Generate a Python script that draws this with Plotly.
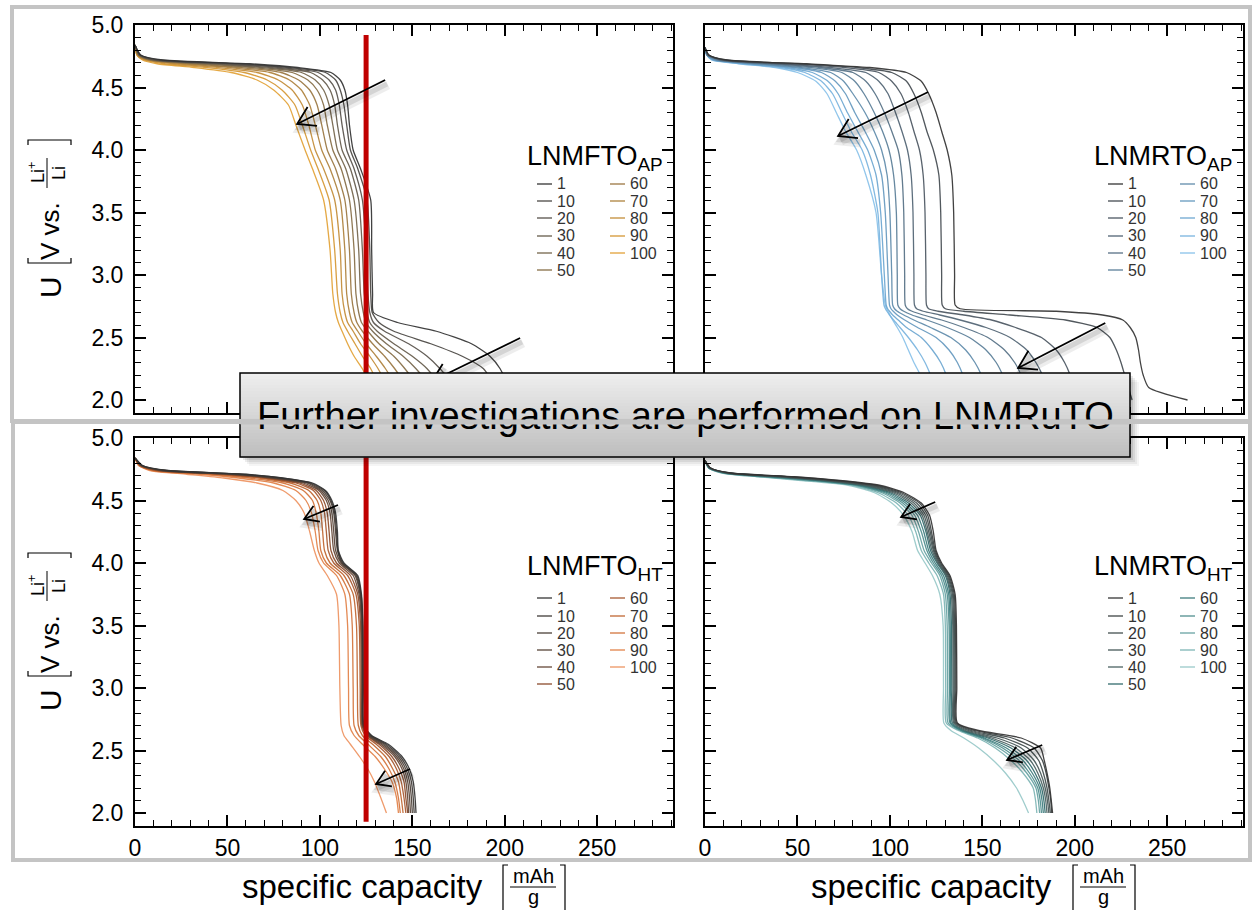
import math
import plotly.graph_objects as go

W, H = 1256, 910
FONT = "Liberation Sans, Arial, Helvetica, sans-serif"

CYCLES = [1, 10, 20, 30, 40, 50, 60, 70, 80, 90, 100]
X_RANGE = [0, 291]
Y_RANGE = [1.896, 5.0]
X_TICKS = [0, 50, 100, 150, 200, 250]
RED_LINE_CAPACITY = 125

# ---- LNMFTO_AP: voltage nodes and capacity of each cycle at those nodes ----
TL_VOLT = [4.84, 4.76, 4.72, 4.69, 4.66, 4.62, 4.56, 4.48, 4.36, 4.20, 4.00, 3.85,
           3.60, 3.20, 2.85, 2.70, 2.62, 2.55, 2.45, 2.35, 2.25, 2.12, 2.00]
TL_CAP = [
    [0, 3, 15, 62, 88, 106, 111, 113.5, 115, 116, 118, 122, 127.5, 128, 128.5, 129, 142, 163, 182, 192, 197.5, 201.5, 203],
    [0, 3, 13, 56, 83, 103, 108.5, 111, 113, 114.5, 116.5, 120.5, 125.5, 127, 127.5, 128.3, 132, 140, 160, 177, 188.5, 194, 196],
    [0, 2.5, 12, 51, 78, 99, 105, 108.5, 110.5, 112, 114.5, 118.5, 123, 125, 126, 127, 129, 135, 148, 158, 165, 172, 176],
    [0, 2.5, 11, 46, 73, 95, 101.5, 105.5, 108, 109.5, 112, 116.5, 121, 123, 124, 125.5, 127, 131, 140, 150, 158, 165, 169],
    [0, 2, 10, 41, 68, 90, 97.5, 102, 105, 107, 109.5, 114, 118.5, 121, 122, 123.5, 125, 128.5, 136, 145, 152, 159, 163],
    [0, 2, 9, 36, 63, 85, 93.5, 98.5, 102, 104, 107, 111.5, 116, 118.5, 119.5, 121, 122.5, 126, 132, 140, 146, 152.5, 157],
    [0, 2, 8, 31, 57, 79, 88.5, 94.5, 98.5, 101, 104, 108.5, 113.5, 116, 117, 118.5, 120, 123, 128.5, 135, 140.5, 146.5, 151],
    [0, 1.5, 7, 26, 51, 73, 83.5, 90, 94.5, 97.5, 101, 105.5, 111, 113.5, 114.5, 116, 117.5, 120.5, 125, 130.5, 135.5, 141, 145],
    [0, 1.5, 6, 21, 45, 66, 77.5, 85, 90.5, 94, 97.5, 102, 108, 111, 112, 113.5, 115, 118, 122, 127, 131.5, 136, 139.5],
    [0, 1, 5, 16, 38, 59, 71.5, 79.5, 86.5, 90.5, 95, 99, 105, 108, 109.5, 111, 112.5, 115, 119, 123, 127.5, 131.5, 134.5],
    [0, 1, 4, 12, 32, 52, 66, 75, 83, 87, 92, 96, 102, 105.5, 107, 108.5, 110, 112, 115, 118.5, 123, 127, 130],
]

# ---- LNMRTO_AP ----
TR_VOLT = [4.82, 4.76, 4.72, 4.69, 4.66, 4.62, 4.55, 4.45, 4.30, 4.15, 4.00, 3.80, 3.50,
           3.00, 2.76, 2.73, 2.71, 2.68, 2.64, 2.58, 2.50, 2.40, 2.30, 2.20, 2.10, 2.00]
TR_CAP = [
    [0, 2, 12, 55, 89, 109, 117, 121, 125, 128, 131, 133.5, 134.5, 135, 135.3, 138, 190, 215, 226, 230, 233, 234.5, 235.5, 237, 240, 261],
    [0, 2, 11, 50, 82, 101, 109, 113, 117, 120, 123.5, 126.5, 127.5, 128, 128.3, 130, 140, 165, 195, 212, 219, 222.5, 225, 227, 229, 231],
    [0, 2, 10, 45, 75, 94, 101, 106, 110, 113, 116, 118, 119, 119.5, 119.8, 121, 126, 140, 155, 168, 182, 190, 194.5, 197.5, 199.5, 201],
    [0, 1.5, 9, 40, 68, 87, 94, 99, 103, 106.5, 109.5, 111.5, 112.5, 113, 113.3, 114.5, 118, 127, 138, 152, 165, 174, 179, 182.5, 185, 186.5],
    [0, 1.5, 8, 36, 62, 80, 87, 92, 97, 101, 104.5, 106.5, 107.5, 108, 108.3, 109.5, 112, 118, 128, 140, 153, 162, 167.5, 171, 173.5, 175],
    [0, 1.5, 7, 32, 57, 74, 81, 86, 91.5, 96, 99.5, 102, 103.5, 104, 104.3, 105.5, 107.5, 112, 120, 131, 143, 152, 157.5, 161, 163.5, 165],
    [0, 1, 6, 28, 52, 68, 75, 80, 86.5, 91.5, 95.5, 98.5, 100, 101, 101.5, 102.5, 104, 107.5, 113, 122, 133, 141, 146, 149.5, 152, 153.5],
    [0, 1, 5, 25, 48, 63, 70.5, 76, 81, 86.5, 91.5, 95.5, 97.5, 99, 99.8, 100.6, 101.8, 104, 108, 115, 125, 132, 136.5, 139.5, 141.5, 143],
    [0, 1, 4.5, 22, 44, 58, 66.5, 72, 77, 82.5, 88, 92.5, 95, 97, 98, 98.8, 99.8, 101.5, 104.5, 109, 117, 123, 127.5, 130.5, 132.5, 134],
    [0, 1, 4, 20, 41, 54, 63, 69, 74, 79, 85, 89.5, 93.5, 95.5, 96.8, 97.6, 98.4, 99.8, 102, 105.5, 110, 115, 119, 122, 124.5, 126],
    [0, 1, 3.5, 18, 38, 50, 60, 66, 71, 76, 82, 87, 92.5, 95.5, 97.5, 98.3, 99, 100, 101.5, 104, 107, 110, 113, 116.5, 119, 121],
]

# ---- LNMFTO_HT ----
BL_VOLT = [4.84, 4.78, 4.74, 4.71, 4.68, 4.64, 4.58, 4.50, 4.40, 4.25, 4.10, 4.00,
           3.90, 3.75, 3.50, 3.00, 2.70, 2.62, 2.55, 2.45, 2.35, 2.25, 2.12, 2.00]
BL_CAP = [
    [0, 4, 18, 60, 80, 96, 103, 106.5, 108.5, 109.5, 110, 113, 120.5, 122.5, 123.3, 123.5, 123.8, 128, 137, 144.5, 148.5, 150.5, 151.5, 152],
    [0, 4, 17, 58, 79, 95, 102.5, 106, 108, 109, 109.8, 112.5, 120, 122.3, 123.2, 123.4, 123.7, 127.5, 136, 143.5, 147.5, 149.5, 150.5, 151],
    [0, 3.5, 16, 56, 77, 94, 101.5, 105.5, 107.5, 108.5, 109.5, 112, 119.5, 122, 123, 123.2, 123.5, 127, 135, 142.5, 146.5, 148.5, 149.5, 150],
    [0, 3.5, 15, 54, 76, 93, 100.5, 104.5, 106.5, 107.5, 108.5, 111.5, 119, 121.7, 122.8, 123, 123.3, 126.5, 134, 141.5, 145.5, 147.5, 148.5, 149],
    [0, 3, 14, 52, 74, 91, 99.5, 103.5, 105.5, 106.5, 107.5, 110.5, 118, 121.2, 122.5, 122.8, 123, 126, 133, 140.5, 144.5, 146.5, 147.5, 148],
    [0, 3, 13, 50, 72, 89, 98, 102, 104, 105, 106, 109, 116.5, 120.5, 122, 122.4, 122.7, 125.5, 132, 139, 143, 145.5, 146.5, 147.5],
    [0, 3, 12, 48, 70, 87, 96.5, 100.5, 102.5, 103.5, 104.5, 107.5, 115, 119.5, 121.3, 121.8, 122.2, 124.5, 130.5, 137.5, 141.5, 144, 145.5, 146.5],
    [0, 2.5, 11, 45, 67, 84, 94, 98.5, 100.5, 101.5, 102.5, 105.5, 113, 118, 119.8, 120.3, 120.8, 123, 128.5, 135.5, 139.5, 142.5, 144, 145],
    [0, 2.5, 10, 40, 62, 80, 91, 96, 98, 99.5, 100.5, 103.5, 111, 116, 117.5, 118, 118.5, 121, 126, 133, 137.5, 140.5, 142.5, 143.5],
    [0, 2, 9, 35, 56, 75, 87, 92.5, 95.5, 97.5, 99, 102, 109, 113.5, 115, 115.5, 116, 118.5, 123, 130, 135, 139, 141.5, 142.5],
    [0, 2, 8, 28, 48, 66, 80, 87, 91.5, 94.5, 97, 99.5, 104, 109, 110.3, 110.8, 111.5, 113, 116.5, 121.5, 126, 129.5, 133, 136],
]

# ---- LNMRTO_HT ----
BR_VOLT = [4.82, 4.76, 4.72, 4.69, 4.66, 4.62, 4.56, 4.48, 4.38, 4.25, 4.10, 4.00, 3.90,
           3.75, 3.50, 3.00, 2.72, 2.66, 2.60, 2.52, 2.42, 2.32, 2.20, 2.10, 2.00]
BR_CAP = [
    [0, 3, 14, 48, 73, 95, 108, 117, 121.5, 123.5, 125, 128, 132.5, 135.3, 136, 136.2, 136.5, 148, 171, 181.5, 183.5, 185, 186.5, 187.3, 188],
    [0, 3, 13.5, 46, 71, 93, 106.5, 116, 120.5, 122.5, 124.5, 127.5, 132, 134.8, 135.5, 135.7, 136, 146, 166, 178, 182.5, 184.5, 186, 187, 187.5],
    [0, 3, 13, 44, 69, 91, 105, 114.5, 119.5, 121.8, 124, 127, 131.5, 134.3, 135, 135.2, 135.5, 144, 162, 174.5, 180.5, 183, 185, 186, 186.8],
    [0, 2.5, 12.5, 42, 67, 89, 103.5, 113, 118.5, 121, 123.5, 126.5, 131, 133.8, 134.5, 134.7, 135, 142.5, 158, 171, 178, 181.5, 184, 185.2, 186],
    [0, 2.5, 12, 40, 65, 87, 102, 111.5, 117.5, 120.2, 122.8, 126, 130.5, 133.2, 134, 134.2, 134.5, 141, 155, 168, 176, 180, 183, 184.3, 185],
    [0, 2.5, 11.5, 38, 63, 86, 100.5, 110, 116.5, 119.5, 122, 125.5, 130, 132.5, 133.3, 133.5, 133.8, 140, 153, 165.5, 174, 178.5, 182, 183.3, 184],
    [0, 2.5, 11, 36, 61, 84, 99, 108.5, 115, 118.3, 121, 124.5, 129, 131.8, 132.6, 132.8, 133, 139, 151, 163, 172, 177, 181, 182.3, 183],
    [0, 2, 10.5, 34, 59, 83, 97.5, 107, 113.5, 117, 120, 123.5, 128, 131, 132, 132.2, 132.5, 138.5, 150, 161, 170, 175.5, 180, 181.3, 182],
    [0, 2, 10, 32, 57, 82, 96, 105.5, 112, 115.5, 118.5, 122.5, 127, 130, 131, 131.2, 131.5, 138, 149, 159, 168, 174, 179, 180.3, 181],
    [0, 2, 9.5, 30, 55, 80, 94, 103.5, 110, 114, 117, 121, 125.5, 129, 130, 130.2, 130.5, 137, 147.5, 157, 165.5, 172, 177.5, 178.8, 179.5],
    [0, 2, 9, 28, 52, 78, 92, 101, 107.5, 112, 115, 119, 123, 127, 128.8, 129, 129.2, 133, 140, 148, 156, 162.5, 168.5, 172, 175],
]

TL_COLORS = ["#333333", "#4a4743", "#57514a", "#645a4a", "#74644a", "#866d45",
             "#9a7640", "#ae813b", "#c38c37", "#d59733", "#e3a236"]
TR_COLORS = ["#333333", "#434a50", "#4b5661", "#506373", "#557085", "#5a7e98",
             "#5f8bab", "#6599bf", "#6da7d1", "#79b4df", "#89c2ea"]
BL_COLORS = ["#333333", "#3e3935", "#4a3e36", "#564236", "#644636", "#8b4a2a",
             "#a7582f", "#c0652f", "#d3733a", "#e28147", "#ee9360"]
BR_COLORS = ["#333333", "#3c4343", "#414d4d", "#455757", "#486060", "#2f6a6b",
             "#3d7c7d", "#4f8e8e", "#66a2a2", "#7db5b5", "#98c9c9"]

# arrows (tail, tip) in data units
TL_ARROWS = [((135.3, 4.56), (87.7, 4.208)), ((208.3, 2.496), (160.7, 2.152))]
TR_ARROWS = [((120.7, 4.464), (72.0, 4.112)), ((216.5, 2.616), (169.4, 2.256))]
BL_ARROWS = [((109.8, 4.464), (91.5, 4.352)), ((148.8, 2.352), (130.4, 2.232))]
BR_ARROWS = [((124.5, 4.488), (106.1, 4.368)), ((182.4, 2.544), (163.4, 2.424))]

# ---------------------------------------------------------------------------
def fx(px):
    return px / W


def fy(py):
    return 1 - py / H


PANELS = [
    dict(name="LNMFTO", sub="AP", volt=TL_VOLT, cap=TL_CAP, colors=TL_COLORS, arrows=TL_ARROWS,
         box=(135, 25, 673, 413), ax="", leg=(525, 158, 537, 610, [184, 201, 218, 236, 253, 270]),
         xlabels=False, ylabels=True, red=True),
    dict(name="LNMRTO", sub="AP", volt=TR_VOLT, cap=TR_CAP, colors=TR_COLORS, arrows=TR_ARROWS,
         box=(705, 25, 1243, 413), ax="2", leg=(1092, 158, 1108, 1180, [184, 201, 218, 236, 253, 270]),
         xlabels=False, ylabels=False, red=False),
    dict(name="LNMFTO", sub="HT", volt=BL_VOLT, cap=BL_CAP, colors=BL_COLORS, arrows=BL_ARROWS,
         box=(135, 438, 673, 826), ax="3", leg=(525, 568, 537, 610, [598, 616, 633, 650, 667, 684]),
         xlabels=True, ylabels=True, red=True),
    dict(name="LNMRTO", sub="HT", volt=BR_VOLT, cap=BR_CAP, colors=BR_COLORS, arrows=BR_ARROWS,
         box=(705, 438, 1243, 826), ax="4", leg=(1092, 568, 1108, 1180, [598, 616, 633, 650, 667, 684]),
         xlabels=True, ylabels=False, red=False),
]


def to_px(box, x, y):
    x0, y0, x1, y1 = box
    px = x0 + (x - X_RANGE[0]) / (X_RANGE[1] - X_RANGE[0]) * (x1 - x0)
    py = y1 - (y - Y_RANGE[0]) / (Y_RANGE[1] - Y_RANGE[0]) * (y1 - y0)
    return px, py


def to_data(box, px, py):
    x0, y0, x1, y1 = box
    x = X_RANGE[0] + (px - x0) / (x1 - x0) * (X_RANGE[1] - X_RANGE[0])
    y = Y_RANGE[0] + (y1 - py) / (y1 - y0) * (Y_RANGE[1] - Y_RANGE[0])
    return x, y


def label(px, py, text, size, angle=0, color="black", anchor="center", pad=1):
    return dict(x=fx(px), y=fy(py), xref="paper", yref="paper", text=text, showarrow=False,
                textangle=angle, xanchor=anchor, yanchor="middle", borderpad=pad,
                font=dict(size=size, color=color, family=FONT))


fig = go.Figure()
shapes = []
annotations = []

for p in PANELS:
    xa, ya = "x" + p["ax"], "y" + p["ax"]
    # discharge curves, last cycle first so the early cycles sit on top
    for i in reversed(range(len(CYCLES))):
        fig.add_trace(go.Scatter(
            x=p["cap"][i], y=p["volt"], xaxis=xa, yaxis=ya, mode="lines",
            line=dict(color=p["colors"][i], width=1.3, shape="spline", smoothing=0.6),
            opacity=0.92, showlegend=False, hoverinfo="skip"))
    # capacity marker line
    if p["red"]:
        fig.add_trace(go.Scatter(
            x=[RED_LINE_CAPACITY, RED_LINE_CAPACITY], y=[4.92 if p["ax"] == "" else 5.0, 1.93],
            xaxis=xa, yaxis=ya, mode="lines", line=dict(color="#c00000", width=5),
            showlegend=False, hoverinfo="skip"))
    # trend arrows with a soft drop shadow
    box = p["box"]
    for (tail, tip) in p["arrows"]:
        tpx, tpy = to_px(box, *tail)
        hpx, hpy = to_px(box, *tip)
        ang = math.atan2(tpy - hpy, tpx - hpx)
        length = math.hypot(tpx - hpx, tpy - hpy)
        head = 20 if length > 60 else 16
        wings = []
        for s in (-1, 1):
            a = ang + s * math.radians(32)
            wings.append((hpx + head * math.cos(a), hpy + head * math.sin(a)))
        path_px = [(tpx, tpy), (hpx, hpy), None, wings[0], (hpx, hpy), wings[1]]
        for dx, dy, col, wdt in ((3, 5, "rgba(0,0,0,0.07)", 9), (2, 4, "rgba(0,0,0,0.10)", 5), (0, 0, "black", 1.8)):
            xs, ys = [], []
            for pt in path_px:
                if pt is None:
                    xs.append(None); ys.append(None)
                else:
                    dxv, dyv = to_data(box, pt[0] + dx, pt[1] + dy)
                    xs.append(dxv); ys.append(dyv)
            fig.add_trace(go.Scatter(x=xs, y=ys, xaxis=xa, yaxis=ya, mode="lines",
                                     line=dict(color=col, width=wdt), showlegend=False,
                                     hoverinfo="skip"))

    # axes
    x0, y0, x1, y1 = box
    common = dict(showline=True, linecolor="black", linewidth=2, mirror="allticks",
                  ticks="inside", ticklen=11, tickwidth=2, tickcolor="black",
                  showgrid=False, zeroline=False, automargin=False,
                  tickfont=dict(size=23, color="black", family=FONT))
    fig.layout["xaxis" + p["ax"]] = dict(
        common, domain=[fx(x0), fx(x1)], range=X_RANGE, anchor=ya, tickvals=X_TICKS,
        showticklabels=p["xlabels"], ticklabelstandoff=0,
        minor=dict(ticks="inside", ticklen=6, tickwidth=1.2, tickcolor="black", dtick=10, tick0=0))
    fig.layout["yaxis" + p["ax"]] = dict(
        common, domain=[fy(y1), fy(y0)], range=Y_RANGE, anchor=xa, tick0=0, dtick=0.5,
        tickformat=".1f", showticklabels=p["ylabels"], ticklabelstandoff=5,
        minor=dict(ticks="inside", ticklen=6, tickwidth=1.2, tickcolor="black", dtick=0.1, tick0=0))

    # legend block
    tx, ty, c1x, c2x, rows = p["leg"]
    annotations.append(label(tx, ty, p["name"] + "<sub>" + p["sub"] + "</sub>", 27, anchor="left"))
    for i, c in enumerate(CYCLES):
        cx = c1x if i < 6 else c2x
        ry = rows[i if i < 6 else i - 6]
        shapes.append(dict(type="line", xref="paper", yref="paper", x0=fx(cx), x1=fx(cx + 15),
                           y0=fy(ry), y1=fy(ry), line=dict(color=p["colors"][i], width=1.6),
                           opacity=0.8, layer="above"))
        annotations.append(label(cx + 18, ry, str(c), 16, color="#333333", anchor="left"))

# y axis titles:  U [V vs. Li+/Li]
for top in (25, 438):
    annotations.append(label(50, top + 262, "U", 30, angle=-90))
    annotations.append(label(50, top + 206, "V vs.", 26, angle=-90))
    annotations.append(label(36, top + 148, "Li<sup>+</sup>", 18, angle=-90))
    annotations.append(label(59, top + 148, "Li", 18, angle=-90))
    shapes.append(dict(type="line", xref="paper", yref="paper", x0=fx(47), x1=fx(47),
                       y0=fy(top + 133), y1=fy(top + 163), line=dict(color="black", width=1)))
    b1 = top + 238
    b2 = top + 115
    shapes.append(dict(type="path", xref="paper", yref="paper",
                       path=f"M {fx(28)},{fy(b1 - 5)} L {fx(28)},{fy(b1)} L {fx(71)},{fy(b1)} L {fx(71)},{fy(b1 - 5)}",
                       line=dict(color="black", width=1.2)))
    shapes.append(dict(type="path", xref="paper", yref="paper",
                       path=f"M {fx(28)},{fy(b2 + 5)} L {fx(28)},{fy(b2)} L {fx(71)},{fy(b2)} L {fx(71)},{fy(b2 + 5)}",
                       line=dict(color="black", width=1.2)))

# x axis titles:  specific capacity [mAh/g]
for dx in (0, 570):
    annotations.append(label(362 + dx, 886, "specific capacity", 33))
    annotations.append(label(533 + dx, 876, "mAh", 20, pad=0))
    annotations.append(label(533 + dx, 897, "g", 20, pad=0))
    shapes.append(dict(type="line", xref="paper", yref="paper", x0=fx(510 + dx), x1=fx(556 + dx),
                       y0=fy(887), y1=fy(887), line=dict(color="black", width=1)))
    shapes.append(dict(type="path", xref="paper", yref="paper",
                       path=f"M {fx(508 + dx)},{fy(865)} L {fx(503 + dx)},{fy(865)} L {fx(503 + dx)},{fy(912)}",
                       line=dict(color="black", width=1.2)))
    shapes.append(dict(type="path", xref="paper", yref="paper",
                       path=f"M {fx(560 + dx)},{fy(865)} L {fx(565 + dx)},{fy(865)} L {fx(565 + dx)},{fy(912)}",
                       line=dict(color="black", width=1.2)))

# call-out box across the middle: shadow, vertical grey gradient, border
BX0, BY0, BX1, BY1 = 240, 373, 1130, 457
for k, a in ((9, 0.04), (7, 0.05), (5, 0.07), (3, 0.09)):
    shapes.append(dict(type="rect", xref="paper", yref="paper", x0=fx(BX0 + k), x1=fx(BX1 + k),
                       y0=fy(BY0 + k), y1=fy(BY1 + k), line=dict(width=0),
                       fillcolor=f"rgba(0,0,0,{a})", layer="above"))
NB = 28
for b in range(NB):
    t = b / (NB - 1)
    g = int(round(238 - t * (238 - 190)))
    ya0 = BY0 + (BY1 - BY0) * b / NB
    ya1 = BY0 + (BY1 - BY0) * (b + 1) / NB + 0.6
    shapes.append(dict(type="rect", xref="paper", yref="paper", x0=fx(BX0), x1=fx(BX1),
                       y0=fy(ya1), y1=fy(ya0), line=dict(width=0),
                       fillcolor=f"rgb({g},{g},{g})", layer="above"))
shapes.append(dict(type="rect", xref="paper", yref="paper", x0=fx(BX0), x1=fx(BX1),
                   y0=fy(BY1), y1=fy(BY0), line=dict(color="black", width=1.5),
                   fillcolor="rgba(0,0,0,0)", layer="above"))

# slide frames around the two rows
FRAME = "#c4c4c4"
shapes.append(dict(type="rect", xref="paper", yref="paper", x0=fx(12), x1=fx(1250),
                   y0=fy(421), y1=fy(7), line=dict(color=FRAME, width=4), layer="above"))
shapes.append(dict(type="rect", xref="paper", yref="paper", x0=fx(13), x1=fx(1250),
                   y0=fy(860), y1=fy(422), line=dict(color=FRAME, width=4), layer="above"))

annotations.append(label((BX0 + BX1) / 2, 416, "Further investigations are performed on LNMRuTO", 38))
# frame edge running over the call-out text
annotations.append(dict(x=fx((BX0 + BX1) / 2), y=fy(421.5), xref="paper", yref="paper", text=" ",
                        showarrow=False, xanchor="center", yanchor="middle",
                        width=BX1 - BX0 - 2, height=4, borderpad=0,
                        bgcolor=FRAME, font=dict(size=2)))

fig.update_layout(
    width=W, height=H, margin=dict(l=0, r=0, t=0, b=0, pad=0, autoexpand=False),
    paper_bgcolor="white", plot_bgcolor="white", showlegend=False,
    shapes=shapes, annotations=annotations,
    font=dict(family=FONT, color="black"),
)

fig.write_html("out.html", post_script="document.body.style.margin='0px';")
